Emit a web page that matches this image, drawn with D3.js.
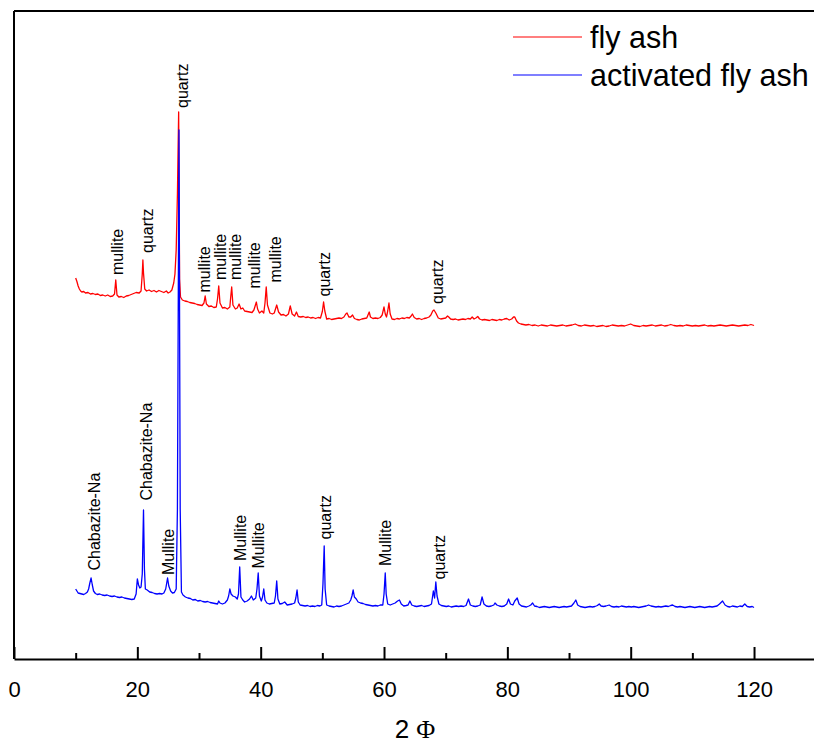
<!DOCTYPE html>
<html>
<head>
<meta charset="utf-8">
<script src="https://cdn.jsdelivr.net/npm/d3@7/dist/d3.min.js"></script>
<style>
body { margin: 0; background: #fff; }
text { font-family: "Liberation Sans", Arial, sans-serif; }
</style>
</head>
<body>
<svg></svg>
<script>
// XRD patterns, fly ash vs activated fly ash
// values: [2 theta, intensity (a.u.)]

var flyAsh = [[10.0,762],[10.2,755],[10.4,746],[10.6,740],[10.8,736],[11.0,734],[11.3,735],[11.6,732],[12.0,733],[12.4,730],[12.8,731],[13.2,729],[13.6,730],[14.0,727],[14.4,728],[14.8,726],[15.2,728],[15.6,725],[16.0,726],[16.3,730],[16.5,758],[16.7,728],[17.0,724],[17.4,725],[17.8,723],[18.2,726],[18.6,727],[19.0,729],[19.4,731],[19.8,733],[20.3,732],[20.6,736],[20.8,770],[20.9,798],[21.0,772],[21.2,740],[21.5,736],[21.9,738],[22.3,735],[22.7,737],[23.1,734],[23.5,737],[23.9,735],[24.3,733],[24.7,736],[25.0,732],[25.3,734],[25.6,738],[25.9,752],[26.1,770],[26.3,818],[26.5,930],[26.7,1094],[26.85,760],[27.0,724],[27.3,718],[27.7,716],[28.1,715],[28.5,713],[28.9,712],[29.3,711],[29.7,709],[30.1,708],[30.5,707],[30.8,712],[31.0,726],[31.2,710],[31.6,705],[32.0,706],[32.4,703],[32.8,704],[33.0,720],[33.2,746],[33.4,712],[33.8,702],[34.2,703],[34.6,700],[35.0,704],[35.15,725],[35.3,744],[35.5,708],[35.9,700],[36.2,702],[36.5,710],[36.8,700],[37.1,702],[37.4,696],[37.8,695],[38.2,694],[38.6,693],[38.9,698],[39.1,706],[39.3,714],[39.5,700],[39.8,692],[40.2,696],[40.5,692],[40.7,712],[40.9,744],[41.1,708],[41.5,692],[41.9,690],[42.2,692],[42.4,700],[42.6,708],[42.9,694],[43.3,688],[43.7,689],[44.1,686],[44.5,690],[44.8,706],[45.1,690],[45.5,686],[45.8,694],[46.1,685],[46.5,684],[46.9,685],[47.3,683],[47.7,684],[48.1,682],[48.5,683],[48.9,681],[49.3,683],[49.7,682],[50.0,695],[50.2,714],[50.4,696],[50.7,680],[51.1,681],[51.5,679],[51.9,680],[52.3,681],[52.7,682],[53.1,681],[53.5,684],[53.8,690],[54.0,692],[54.3,684],[54.6,684],[54.9,688],[55.2,681],[55.6,679],[56.0,678],[56.4,680],[56.8,681],[57.2,682],[57.4,688],[57.6,694],[57.8,684],[58.2,681],[58.6,682],[59.0,681],[59.4,683],[59.7,688],[60.0,704],[60.2,690],[60.4,684],[60.6,696],[60.8,712],[61.0,690],[61.3,680],[61.7,679],[62.1,681],[62.5,680],[62.9,682],[63.3,681],[63.7,683],[64.1,682],[64.4,686],[64.6,690],[64.9,683],[65.3,680],[65.7,681],[66.1,679],[66.5,681],[66.9,682],[67.3,684],[67.6,688],[67.9,696],[68.1,698],[68.4,692],[68.8,682],[69.2,680],[69.6,681],[70.0,682],[70.3,686],[70.5,684],[70.8,680],[71.2,679],[71.6,680],[72.0,678],[72.4,679],[72.8,680],[73.2,679],[73.6,681],[74.0,680],[74.3,684],[74.6,680],[74.9,682],[75.2,685],[75.5,680],[75.9,678],[76.3,679],[76.7,678],[77.1,677],[77.5,679],[77.9,678],[78.3,677],[78.7,679],[79.1,678],[79.5,680],[79.9,681],[80.3,678],[80.7,680],[81.0,684],[81.2,684],[81.5,676],[81.8,672],[82.2,670],[82.6,669],[83.0,668],[83.5,669],[84.0,667],[84.5,668],[85.0,666],[85.5,668],[86.0,667],[86.5,666],[87.0,668],[87.5,667],[88.0,666],[88.5,667],[89.0,668],[89.5,666],[90.0,667],[90.5,668],[91.0,670],[91.5,667],[92.0,666],[92.5,668],[93.0,667],[93.5,666],[94.0,667],[94.5,665],[95.0,666],[95.5,667],[96.0,665],[96.5,666],[97.0,668],[97.5,667],[98.0,666],[98.5,667],[99.0,666],[99.5,668],[100.0,670],[100.5,667],[101.0,666],[101.5,665],[102.0,667],[102.5,666],[103.0,667],[103.5,668],[104.0,666],[104.5,667],[105.0,668],[105.5,666],[106.0,667],[106.5,669],[107.0,667],[107.5,666],[108.0,667],[108.5,666],[109.0,668],[109.5,667],[110.0,666],[110.5,667],[111.0,666],[111.5,667],[112.0,668],[112.5,666],[113.0,667],[113.5,666],[114.0,667],[114.5,668],[115.0,667],[115.5,666],[116.0,667],[116.5,668],[117.0,667],[117.5,666],[118.0,667],[118.5,668],[119.0,667],[119.5,669],[120.0,667]];

var activated = [[10.0,140],[10.2,136],[10.4,132],[10.7,131],[11.0,130],[11.3,129],[11.6,131],[11.9,134],[12.1,140],[12.3,152],[12.5,162],[12.7,148],[12.9,136],[13.2,131],[13.5,129],[13.9,130],[14.3,128],[14.7,127],[15.1,128],[15.5,126],[15.9,125],[16.3,126],[16.7,124],[17.1,123],[17.5,124],[17.9,122],[18.3,121],[18.7,120],[19.1,119],[19.5,120],[19.8,130],[20.0,160],[20.2,148],[20.4,142],[20.6,144],[20.8,170],[21.0,298],[21.15,180],[21.3,140],[21.6,138],[22.0,134],[22.4,133],[22.8,131],[23.2,130],[23.6,131],[24.0,130],[24.3,132],[24.6,140],[24.9,162],[25.1,146],[25.4,136],[25.7,132],[26.0,133],[26.3,140],[26.5,300],[26.75,1058],[26.95,300],[27.15,134],[27.4,128],[27.8,124],[28.2,122],[28.6,121],[29.0,118],[29.4,119],[29.8,116],[30.2,117],[30.6,115],[31.0,114],[31.4,115],[31.8,113],[32.2,112],[32.6,111],[33.0,110],[33.2,116],[33.4,112],[33.8,110],[34.2,112],[34.6,118],[34.8,126],[35.0,140],[35.2,130],[35.5,126],[35.9,124],[36.2,120],[36.4,130],[36.6,184],[36.8,124],[37.1,118],[37.4,114],[37.8,116],[38.2,120],[38.5,126],[38.8,118],[39.2,122],[39.4,140],[39.6,172],[39.8,126],[40.1,116],[40.3,124],[40.5,140],[40.7,118],[41.0,112],[41.4,110],[41.8,111],[42.2,112],[42.4,126],[42.6,156],[42.8,120],[43.1,110],[43.5,111],[43.9,114],[44.3,108],[44.7,109],[45.1,110],[45.5,112],[45.7,122],[45.9,138],[46.1,114],[46.4,108],[46.8,107],[47.2,106],[47.6,107],[48.0,105],[48.4,106],[48.8,105],[49.2,107],[49.6,106],[49.9,108],[50.1,150],[50.3,226],[50.45,140],[50.7,108],[51.1,106],[51.5,105],[51.9,104],[52.3,106],[52.7,105],[53.1,106],[53.5,108],[53.9,110],[54.3,112],[54.6,118],[54.8,126],[55.0,138],[55.2,124],[55.5,120],[55.8,114],[56.2,112],[56.6,111],[57.0,109],[57.4,108],[57.8,107],[58.2,106],[58.6,107],[59.0,106],[59.4,108],[59.8,108],[60.0,130],[60.2,172],[60.35,130],[60.6,110],[61.0,108],[61.4,110],[61.8,112],[62.2,116],[62.5,118],[62.8,110],[63.2,106],[63.6,107],[63.9,108],[64.2,116],[64.5,108],[64.9,106],[65.3,105],[65.7,106],[66.1,107],[66.5,105],[66.9,106],[67.3,107],[67.7,110],[68.0,136],[68.2,122],[68.4,154],[68.6,126],[68.9,110],[69.3,107],[69.7,106],[70.1,105],[70.5,106],[70.9,104],[71.3,105],[71.7,106],[72.1,105],[72.5,106],[72.9,105],[73.3,107],[73.7,120],[74.0,108],[74.4,106],[74.8,105],[75.2,106],[75.6,108],[75.9,124],[76.2,110],[76.6,106],[77.0,105],[77.4,106],[77.8,108],[78.0,112],[78.3,108],[78.7,106],[79.1,105],[79.5,106],[79.9,110],[80.2,120],[80.5,110],[80.9,108],[81.2,116],[81.6,122],[81.9,110],[82.3,106],[82.7,105],[83.1,104],[83.5,106],[83.8,108],[84.1,112],[84.4,106],[84.8,105],[85.2,103],[85.6,104],[86.0,105],[86.4,104],[86.8,103],[87.2,104],[87.6,105],[88.0,104],[88.4,103],[88.8,104],[89.2,105],[89.6,104],[90.0,105],[90.4,106],[90.8,112],[91.1,118],[91.4,108],[91.8,105],[92.2,104],[92.6,103],[93.0,104],[93.4,105],[93.8,104],[94.2,105],[94.6,107],[94.9,110],[95.2,106],[95.6,105],[96.0,106],[96.5,108],[96.9,105],[97.3,104],[97.7,105],[98.1,104],[98.5,106],[98.9,105],[99.3,104],[99.7,105],[100.1,104],[100.5,105],[100.9,104],[101.3,103],[101.7,104],[102.1,105],[102.5,106],[102.9,108],[103.3,106],[103.7,105],[104.1,104],[104.5,105],[104.9,104],[105.3,105],[105.7,106],[106.1,105],[106.5,107],[106.8,108],[107.2,105],[107.6,104],[108.0,105],[108.4,104],[108.8,103],[109.2,104],[109.6,105],[110.0,104],[110.4,103],[110.8,104],[111.2,105],[111.6,104],[112.0,103],[112.4,104],[112.8,105],[113.2,104],[113.6,105],[114.0,106],[114.4,110],[114.9,116],[115.3,108],[115.7,105],[116.1,104],[116.5,106],[116.9,105],[117.3,104],[117.7,106],[118.1,105],[118.5,110],[118.9,105],[119.3,104],[119.7,105],[120.0,103]];

// peak names: [text, 2 theta, intensity where the text starts]
var flyAshLabels = [
  ["mullite", 16.7, 768],
  ["quartz", 21.7, 812],
  ["quartz", 27.3, 1102],
  ["mullite", 30.9, 733],
  ["mullite", 33.5, 758],
  ["mullite", 35.9, 758],
  ["mullite", 39.0, 741],
  ["mullite", 42.4, 753],
  ["quartz", 50.4, 725],
  ["quartz", 68.7, 710]
];
var activatedLabels = [
  ["Chabazite-Na", 13.0, 177],
  ["Chabazite-Na", 21.5, 317],
  ["Mullite", 25.0, 168],
  ["Mullite", 36.7, 196],
  ["Mullite", 39.7, 181],
  ["quartz", 50.5, 239],
  ["Mullite", 60.3, 186],
  ["quartz", 68.9, 159]
];

var majorTicks = [0, 20, 40, 60, 80, 100, 120];
var minorTicks = [10, 30, 50, 70, 90, 110, 130];
var seriesNames = ["fly ash", "activated fly ash"];
var seriesColors = ["#ff0000", "#0000ff"];

var svgWidth = 814, svgHeight = 743;

var svg = d3.select("svg")
    .attr("width", svgWidth)
    .attr("height", svgHeight);

var x = d3.scaleLinear().domain([0, 130]).range([14, 815.7]);
var y = d3.scaleLinear().domain([0, 1296]).range([659, 11]);

// frame: left and top
svg.append("line")
    .attr("x1", x(0)).attr("x2", x(0))
    .attr("y1", y(1296)).attr("y2", y(0))
    .attr("stroke", "#000").attr("stroke-width", 2);
svg.append("line")
    .attr("x1", x(0)).attr("x2", svgWidth)
    .attr("y1", y(1296)).attr("y2", y(1296))
    .attr("stroke", "#000").attr("stroke-width", 2);

// bottom axis, ticks point inwards
var xAxis = d3.axisBottom(x)
    .tickValues(majorTicks)
    .tickSizeInner(-12)
    .tickSizeOuter(0)
    .tickPadding(22);
var gx = svg.append("g")
    .attr("transform", "translate(0," + y(0) + ")")
    .call(xAxis);
gx.select(".domain").attr("stroke-width", 2);
gx.selectAll(".tick line").attr("stroke-width", 2);
gx.selectAll(".tick text")
    .attr("font-family", "Liberation Sans, Arial, sans-serif")
    .attr("font-size", 22)
    .attr("fill", "#000");

var xMinor = d3.axisBottom(x)
    .tickValues(minorTicks)
    .tickSizeInner(-6)
    .tickSizeOuter(0)
    .tickFormat("");
var gm = svg.append("g")
    .attr("transform", "translate(0," + y(0) + ")")
    .call(xMinor);
gm.select(".domain").remove();
gm.selectAll(".tick line").attr("stroke-width", 2);

svg.append("text")
    .attr("x", 415)
    .attr("y", 738)
    .attr("text-anchor", "middle")
    .attr("font-size", 26)
    .html('2 <tspan font-family="Liberation Serif, Times New Roman, serif">\u03A6</tspan>');

// traces
var line = d3.line()
    .x(function(d) { return x(d[0]); })
    .y(function(d) { return y(d[1]); });

[flyAsh, activated].forEach(function(data, i) {
    svg.append("path")
        .datum(data)
        .attr("d", line)
        .attr("fill", "none")
        .attr("stroke", seriesColors[i])
        .attr("stroke-width", 1.3)
        .attr("stroke-linejoin", "round");
});

// peak names, written upwards
[flyAshLabels, activatedLabels].forEach(function(labels) {
    svg.selectAll(null)
        .data(labels)
        .enter()
        .append("text")
        .attr("transform", function(d) {
            return "translate(" + x(d[1]) + "," + y(d[2]) + ") rotate(-90)";
        })
        .attr("dy", "0.35em")
        .attr("font-size", 16)
        .attr("fill", "#000")
        .text(function(d) { return d[0]; });
});

// legend
var legend = svg.append("g");
seriesNames.forEach(function(name, i) {
    var ly = 37 + i * 38;
    legend.append("line")
        .attr("x1", 513).attr("x2", 582)
        .attr("y1", ly).attr("y2", ly)
        .attr("stroke", seriesColors[i])
        .attr("stroke-width", 1.2);
    legend.append("text")
        .attr("x", 590)
        .attr("y", ly)
        .attr("dy", "0.35em")
        .attr("font-size", 30.5)
        .attr("fill", "#000")
        .text(name);
});
</script>
</body>
</html>
